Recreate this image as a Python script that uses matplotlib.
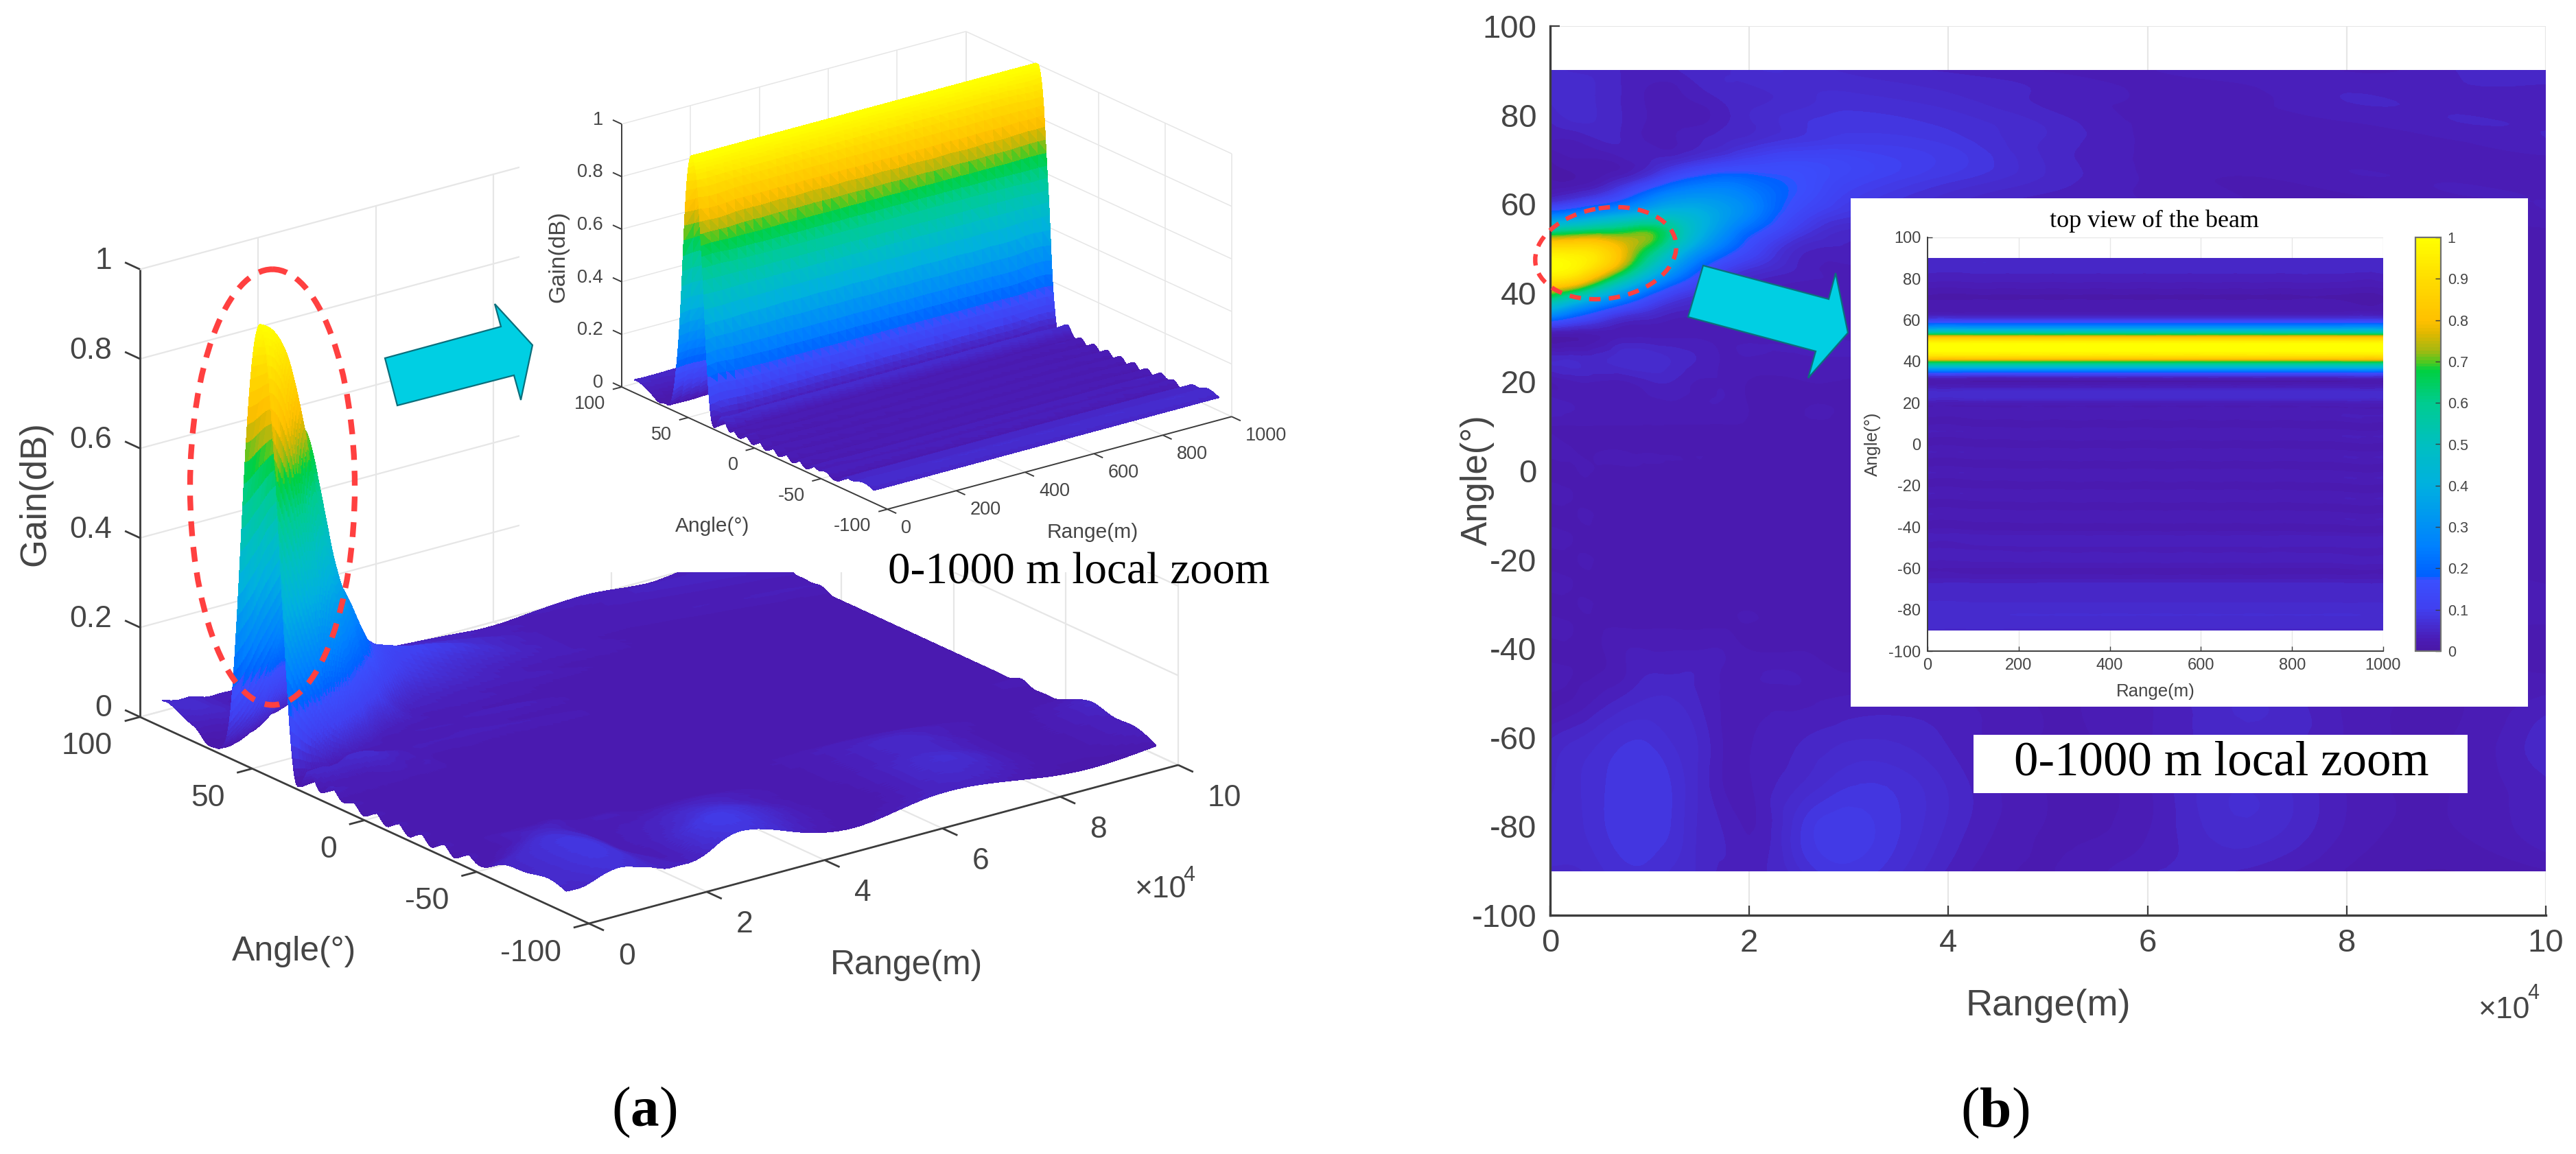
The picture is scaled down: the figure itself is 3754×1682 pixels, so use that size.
import numpy as np
import matplotlib
matplotlib.use("Agg")
import matplotlib.pyplot as plt
import matplotlib.tri as mtri
from matplotlib.colors import LinearSegmentedColormap, Normalize
from matplotlib.cm import ScalarMappable
from matplotlib.patches import Polygon, Ellipse, Rectangle
from mpl_toolkits.mplot3d import proj3d
from mpl_toolkits.mplot3d.art3d import Poly3DCollection

W, H = 3755, 1682
plt.rcParams['font.family'] = ['Liberation Sans', 'DejaVu Sans']
plt.rcParams['axes.unicode_minus'] = False
plt.rcParams['mathtext.fontset'] = 'custom'
plt.rcParams['mathtext.rm'] = 'Liberation Serif'
plt.rcParams['mathtext.bf'] = 'Liberation Serif:bold'

# ---------------------------------------------------------------- data
BEAM_STOPS = [0.0, 0.02, 0.10, 0.17, 0.18, 0.25, 0.30, 0.40, 0.50, 0.60, 0.68, 0.70, 0.73, 0.77, 0.80, 0.90, 1.0]
BEAM_COLORS = ['#4a18a8', '#4a1ab2', '#4040f0', '#3a50ff', '#0060ff', '#0080ff', '#0090f5', '#00b0e0',
               '#00c0c0', '#00cc90', '#00d040', '#50c820', '#a8b810', '#e0b800', '#ffc000', '#ffdc00', '#ffff00']

RANGE_M = [0, 2500, 5000, 7500, 10000, 12500, 15000, 17500, 20000, 25000, 30000,
           40000, 50000, 60000, 70000, 80000, 90000, 100000]
ANGLE_DEG = [-90, -80, -70, -60, -50, -45, -40, -35, -30, -25, -20, -15, -10, -5, 0, 5, 10, 15, 20, 25, 30,
             34, 38, 42, 46, 50, 54, 58, 62, 66, 70, 74, 78, 82, 86, 90]
# gain in percent: one row per angle, one column per range
GAIN_PCT = [
    [5, 5, 6, 7, 7, 6, 5, 4, 4, 6, 8, 4, 2, 4, 4, 2, 1, 2],
    [6, 6, 7, 8, 8, 7, 5, 4, 3, 7, 9, 5, 2, 3, 6, 3, 2, 4],
    [5, 6, 7, 8, 8, 7, 5, 3, 3, 5, 7, 5, 2, 3, 6, 3, 2, 4],
    [4, 5, 6, 7, 7, 6, 5, 3, 3, 4, 5, 4, 2, 3, 5, 3, 2, 5],
    [2, 2, 3, 4, 5, 5, 4, 3, 3, 3, 3, 3, 2, 3, 5, 3, 2, 3],
    [3, 2, 2, 3, 4, 4, 4, 3, 3, 3, 2, 2, 2, 3, 4, 3, 2, 2],
    [1, 2, 2, 3, 3, 3, 3, 3, 2, 2, 2, 2, 2, 3, 3, 2, 2, 2],
    [3, 2, 2, 2, 2, 2, 2, 2, 2, 2, 2, 2, 2, 2, 2, 2, 2, 2],
    [1, 2, 2, 2, 2, 2, 2, 2, 2, 2, 2, 2, 2, 2, 2, 2, 2, 3],
    [3, 2, 2, 2, 2, 2, 2, 2, 2, 2, 2, 2, 2, 2, 2, 2, 2, 2],
    [1, 2, 2, 2, 2, 2, 2, 2, 2, 2, 2, 2, 2, 2, 2, 2, 2, 2],
    [3, 2, 2, 2, 2, 2, 2, 2, 2, 2, 2, 2, 2, 2, 2, 2, 2, 2],
    [1, 2, 2, 2, 2, 2, 2, 2, 2, 2, 2, 2, 2, 2, 2, 2, 2, 2],
    [3, 2, 2, 2, 2, 2, 2, 2, 2, 2, 2, 2, 2, 2, 2, 2, 2, 2],
    [1, 2, 2, 2, 2, 2, 2, 2, 2, 2, 2, 2, 2, 2, 2, 2, 2, 2],
    [3, 2, 2, 2, 2, 2, 2, 2, 2, 2, 2, 2, 2, 2, 2, 2, 2, 2],
    [2, 2, 2, 2, 2, 2, 2, 2, 2, 2, 2, 2, 2, 2, 2, 2, 2, 2],
    [4, 3, 3, 3, 3, 3, 3, 3, 2, 2, 2, 2, 2, 2, 2, 2, 2, 2],
    [2, 3, 3, 3, 4, 4, 3, 3, 2, 2, 2, 2, 2, 2, 2, 2, 2, 2],
    [5, 5, 5, 6, 6, 5, 4, 3, 3, 3, 3, 3, 2, 2, 2, 2, 2, 2],
    [1, 1, 2, 3, 3, 3, 3, 3, 3, 3, 3, 2, 2, 2, 2, 2, 2, 2],
    [20, 14, 9, 5, 4, 3, 3, 3, 3, 3, 3, 3, 2, 2, 2, 2, 2, 2],
    [55, 42, 30, 20, 12, 7, 5, 3, 3, 3, 3, 3, 2, 2, 2, 2, 2, 2],
    [86, 80, 64, 46, 30, 18, 11, 6, 4, 3, 3, 2, 2, 2, 2, 2, 2, 2],
    [100, 97, 88, 72, 52, 34, 20, 12, 8, 4, 3, 3, 2, 2, 2, 2, 2, 2],
    [90, 90, 87, 77, 66, 49, 33, 22, 14, 5, 4, 3, 3, 2, 2, 2, 2, 2],
    [58, 61, 64, 66, 68, 57, 42, 30, 20, 9, 5, 4, 3, 2, 2, 2, 2, 2],
    [20, 24, 30, 35, 41, 43, 40, 34, 27, 13, 8, 5, 3, 3, 2, 2, 2, 3],
    [3, 5, 8, 14, 22, 28, 30, 29, 25, 16, 10, 6, 4, 3, 2, 2, 3, 3],
    [1, 1, 2, 4, 8, 14, 18, 20, 19, 16, 12, 8, 5, 3, 2, 3, 3, 3],
    [1, 2, 2, 3, 4, 5, 7, 9, 11, 13, 12, 9, 5, 3, 3, 3, 3, 3],
    [3, 3, 4, 4, 3, 3, 4, 5, 6, 8, 9, 8, 5, 3, 3, 3, 3, 4],
    [4, 5, 5, 4, 3, 3, 3, 4, 5, 7, 8, 7, 5, 3, 3, 3, 4, 4],
    [5, 6, 5, 4, 3, 3, 3, 4, 5, 6, 7, 6, 4, 3, 3, 4, 4, 4],
    [6, 6, 5, 4, 3, 3, 4, 5, 5, 6, 6, 5, 4, 3, 3, 4, 4, 4],
    [6, 5, 5, 4, 4, 4, 5, 5, 6, 6, 5, 4, 3, 3, 4, 3, 4, 5],
]

ZOOM_RANGE_M = [0, 100, 200, 300, 400, 500, 600, 700, 800, 900, 1000]
ZOOM_ANGLE_DEG = [-90, -85, -80, -75, -70, -65, -60, -55, -50, -45, -40, -35, -30, -25, -20, -15, -10, -5, 0,
                  5, 10, 15, 18, 21, 24, 27, 30, 32, 34, 36, 38, 40, 42, 44, 46, 48, 50, 52, 54, 56, 58,
                  60, 62, 66, 70, 74, 78, 82, 86, 90]
ZOOM_GAIN = [0.05, 0.06, 0.06, 0.05, 0.05, 0.03, 0.02, 0.035, 0.03, 0.035, 0.015, 0.03, 0.015, 0.03, 0.015, 0.03,
             0.015, 0.03, 0.015, 0.03, 0.015, 0.03, 0.02, 0.04, 0.06, 0.04, 0.01, 0.03, 0.12, 0.28, 0.50, 0.68,
             0.86, 0.96, 1.0, 0.995, 0.93, 0.78, 0.55, 0.34, 0.20, 0.10, 0.04, 0.015, 0.01, 0.015, 0.03, 0.04,
             0.05, 0.05]

Z_TICKS = [0, 0.2, 0.4, 0.6, 0.8, 1]
Z_TICK_LABELS = ['0', '0.2', '0.4', '0.6', '0.8', '1']
ANGLE_TICKS_3D = [100, 50, 0, -50, -100]
RANGE_TICKS_MAIN = [0, 20000, 40000, 60000, 80000, 100000]
RANGE_LABELS_MAIN = ['0', '2', '4', '6', '8', '10']
RANGE_TICKS_ZOOM = [0, 200, 400, 600, 800, 1000]
RANGE_LABELS_ZOOM = ['0', '200', '400', '600', '800', '1000']
ANGLE_TICKS_2D = [100, 80, 60, 40, 20, 0, -20, -40, -60, -80, -100]
CBAR_TICKS = [0, 0.1, 0.2, 0.3, 0.4, 0.5, 0.6, 0.7, 0.8, 0.9, 1]
CBAR_LABELS = ['0', '0.1', '0.2', '0.3', '0.4', '0.5', '0.6', '0.7', '0.8', '0.9', '1']
ZOOM_TEXT = '0-1000 m local zoom'

# ---------------------------------------------------------------- styles
TXT = '#454545'
AXC = '#3c3c3c'
GRID = '#e6e6e6'
SERIF = ['Liberation Serif', 'DejaVu Serif']
cmap = LinearSegmentedColormap.from_list('beam', list(zip(BEAM_STOPS, BEAM_COLORS)), N=128)
LEVELS = np.linspace(0, 1.0001, 97)


def grid_triangles(nr, nc):
    tris = []
    for i in range(nr - 1):
        for j in range(nc - 1):
            a = i * nc + j
            tris += [[a, a + 1, a + nc], [a + 1, a + nc + 1, a + nc]]
    return np.array(tris)


def refined_surface(ranges, angles, values, subdiv):
    rr, aa = np.meshgrid(np.asarray(ranges, float), np.asarray(angles, float))
    zz = np.asarray(values, float)
    t = mtri.Triangulation(rr.ravel(), aa.ravel(), grid_triangles(len(angles), len(ranges)))
    rt, rz = mtri.UniformTriRefiner(t).refine_field(zz.ravel(), subdiv=subdiv)
    return rt, np.clip(rz, 0, 1)


main_tri, main_z = refined_surface(RANGE_M, ANGLE_DEG, np.array(GAIN_PCT) / 100.0, 3)
zoom_table = np.column_stack([ZOOM_GAIN] * len(ZOOM_RANGE_M))
zoom_tri, zoom_z = refined_surface(ZOOM_RANGE_M, ZOOM_ANGLE_DEG, zoom_table, 2)


def rect_px(x0, y0, x1, y1):
    return [x0 / W, 1 - y1 / H, (x1 - x0) / W, (y1 - y0) / H]


fig = plt.figure(figsize=(W / 100, H / 100), dpi=100, facecolor='white')


def pixel_overlay(z):
    ov = fig.add_axes([0, 0, 1, 1], zorder=z)
    ov.set_xlim(0, W)
    ov.set_ylim(H, 0)
    ov.axis('off')
    ov.patch.set_alpha(0)
    return ov


under = pixel_overlay(2)
top = pixel_overlay(10)


def project_px(ax, x, y, z):
    u, v, _ = proj3d.proj_transform(x, y, z, ax.get_proj())
    px, py = ax.transData.transform((u, v))
    return px, H - py


def fit_3d(ax, p1, px1, p2, px2):
    size = 1000.0
    ax.set_position([0.2, 0.2, size / W, size / H])
    ax.apply_aspect()
    a = np.array(project_px(ax, *p1))
    b = np.array(project_px(ax, *p2))
    size *= np.linalg.norm(np.array(px2) - np.array(px1)) / np.linalg.norm(b - a)
    ax.set_position([0.2, 0.2, size / W, size / H])
    ax.apply_aspect()
    a = np.array(project_px(ax, *p1))
    ox, oy = 0.2 * W + px1[0] - a[0], 0.2 * H - (px1[1] - a[1])
    ax.set_position([ox / W, oy / H, size / W, size / H])
    ax.apply_aspect()


def surface_3d(rect_z, tri, z, rmax, aspect, A_px, C_px, rticks, lw_axis, lw_grid):
    ax = fig.add_axes([0.2, 0.2, 0.3, 0.3], projection='3d', zorder=rect_z)
    ax.set_proj_type('ortho')
    ax.patch.set_alpha(0)
    ax.set_axis_off()
    verts = np.stack([tri.x[tri.triangles], tri.y[tri.triangles], z[tri.triangles]], axis=-1)
    cols = cmap(z[tri.triangles].mean(axis=1))
    ax.add_collection3d(Poly3DCollection(verts, facecolors=cols, edgecolors=cols, linewidths=1.0,
                                         antialiased=False))
    tick_r = -0.026 * rmax
    tick_a = 6.7

    def ln(xs, ys, zs, c, lw):
        ax.plot(xs, ys, zs, color=c, lw=lw, clip_on=False, solid_capstyle='butt')

    # walls and floor grid
    for zt in Z_TICKS:
        ln([0, rmax], [100, 100], [zt, zt], GRID, lw_grid)
        ln([rmax, rmax], [100, -100], [zt, zt], GRID, lw_grid)
    for rt in rticks:
        ln([rt, rt], [100, 100], [0, 1], GRID, lw_grid)
        ln([rt, rt], [100, -100], [0, 0], GRID, lw_grid)
    for at in ANGLE_TICKS_3D:
        ln([rmax, rmax], [at, at], [0, 1], GRID, lw_grid)
        ln([0, rmax], [at, at], [0, 0], GRID, lw_grid)
    # axis lines and ticks
    ln([0, 0], [100, 100], [0, 1], AXC, lw_axis)
    ln([0, 0], [100, -100], [0, 0], AXC, lw_axis)
    ln([0, rmax], [-100, -100], [0, 0], AXC, lw_axis)
    for zt in Z_TICKS:
        ln([0, 0], [100, 100 + tick_a], [zt, zt], AXC, lw_axis)
    for at in ANGLE_TICKS_3D:
        ln([0, tick_r], [at, at], [0, 0], AXC, lw_axis)
    for rt in rticks:
        ln([rt, rt], [-100, -100 - tick_a], [0, 0], AXC, lw_axis)
    ax.set_xlim(0, rmax, view_margin=0)
    ax.set_ylim(-100, 100, view_margin=0)
    ax.set_zlim(0, 1, view_margin=0)
    ax.set_box_aspect(aspect)
    ax.view_init(elev=20.6, azim=-127.4)
    fit_3d(ax, (0, 100, 0), A_px, (rmax, -100, 0), C_px)
    return ax


# ---------------------------------------------------------------- (a) main surface
ax_main = surface_3d(1, main_tri, main_z, 100000, (1081, 1077, 697), (204, 1045), (1717, 1114),
                     RANGE_TICKS_MAIN, 2.0, 1.6)
under.add_patch(Rectangle((757, 0), 1150, 834, fc='white', ec='none'))

# ---------------------------------------------------------------- (a) zoom surface
ax_zoom = surface_3d(3, zoom_tri, zoom_z, 1000, (631, 637, 409), (906, 564), (1795, 606),
                     RANGE_TICKS_ZOOM, 1.4, 1.1)


def labels_3d(ax, rticks, rlabels, fs, zoff, aoff, roff):
    for zt, s in zip(Z_TICKS, Z_TICK_LABELS):
        px, py = project_px(ax, 0, 100, zt)
        top.text(px + zoff[0], py + zoff[1], s, ha='right', va='center', fontsize=fs, color=TXT)
    for at in ANGLE_TICKS_3D:
        px, py = project_px(ax, 0, at, 0)
        top.text(px + aoff[0], py + aoff[1], str(at), ha='right', va='center', fontsize=fs, color=TXT)
    for rt, s in zip(rticks, rlabels):
        px, py = project_px(ax, rt, -100, 0)
        top.text(px + roff[0], py + roff[1], s, ha='left', va='center', fontsize=fs, color=TXT)


labels_3d(ax_main, RANGE_TICKS_MAIN, RANGE_LABELS_MAIN, 32, (-41, -12), (-40, 43), (43, 48))
labels_3d(ax_zoom, RANGE_TICKS_ZOOM, RANGE_LABELS_ZOOM, 19.5, (-27, -6), (-24, 25), (20, 28))

top.text(51, 720, 'Gain(dB)', rotation=90, ha='center', va='center', fontsize=38, color=TXT)
top.text(429, 1387, 'Angle(°)', ha='center', va='center', fontsize=36, color=TXT)
top.text(1321, 1407, 'Range(m)', ha='center', va='center', fontsize=36, color=TXT)
top.text(1692, 1297, '×10', ha='center', va='center', fontsize=32, color=TXT)
top.text(1733, 1276, '4', ha='center', va='center', fontsize=22, color=TXT)

top.text(814, 374, 'Gain(dB)', rotation=90, ha='center', va='center', fontsize=24, color=TXT)
top.text(1038, 767, 'Angle(°)', ha='center', va='center', fontsize=21.5, color=TXT)
top.text(1592, 776, 'Range(m)', ha='center', va='center', fontsize=21.5, color=TXT)
top.text(1572, 835, ZOOM_TEXT, ha='center', va='center', fontsize=47, color='black', family=SERIF)
top.text(939, 1621, r'$\mathrm{(}\mathbf{a}\mathrm{)}$', ha='center', va='center', fontsize=60, color='black')

# ---------------------------------------------------------------- (b) main heat map
ax_b = fig.add_axes(rect_px(2259, 38, 3710, 1334), zorder=1)
ax_b.tricontourf(main_tri, main_z, levels=LEVELS, cmap=cmap, vmin=0, vmax=1)
ax_b.set_xlim(0, 100000)
ax_b.set_ylim(-100, 100)
ax_b.set_xticks(RANGE_TICKS_MAIN, RANGE_LABELS_MAIN)
ax_b.set_yticks(ANGLE_TICKS_2D, [str(v) for v in ANGLE_TICKS_2D])
ax_b.grid(True, color=GRID, lw=1.5)
ax_b.set_axisbelow(True)
for sp in ('top', 'right'):
    ax_b.spines[sp].set_visible(False)
for sp in ('left', 'bottom'):
    ax_b.spines[sp].set_color(AXC)
    ax_b.spines[sp].set_linewidth(2.4)
ax_b.tick_params(direction='in', length=10, width=1.6, color=AXC, labelsize=34, labelcolor=TXT, pad=14)
top.text(2153, 700, 'Angle(°)', rotation=90, ha='center', va='center', fontsize=38, color=TXT)
top.text(2985, 1466, 'Range(m)', ha='center', va='center', fontsize=39, color=TXT)
top.text(3650, 1472, '×10', ha='center', va='center', fontsize=32, color=TXT)
top.text(3692, 1448, '4', ha='center', va='center', fontsize=22, color=TXT)
top.text(2907, 1622, r'$\mathrm{(}\mathbf{b}\mathrm{)}$', ha='center', va='center', fontsize=60, color='black')

# ---------------------------------------------------------------- (b) top-view inset
under.add_patch(Rectangle((2697, 289), 987, 741, fc='white', ec='none'))
under.add_patch(Rectangle((2876, 1071), 720, 85, fc='white', ec='none'))
ax_i = fig.add_axes(rect_px(2809, 346, 3473, 949), zorder=3)
ax_i.tricontourf(zoom_tri, zoom_z, levels=LEVELS, cmap=cmap, vmin=0, vmax=1)
ax_i.set_xlim(0, 1000)
ax_i.set_ylim(-100, 100)
ax_i.set_xticks(RANGE_TICKS_ZOOM, RANGE_LABELS_ZOOM)
ax_i.set_yticks(ANGLE_TICKS_2D, [str(v) for v in ANGLE_TICKS_2D])
ax_i.grid(True, color=GRID, lw=1.0)
ax_i.set_axisbelow(True)
for sp in ('top', 'right'):
    ax_i.spines[sp].set_visible(False)
for sp in ('left', 'bottom'):
    ax_i.spines[sp].set_color(AXC)
    ax_i.spines[sp].set_linewidth(1.4)
ax_i.tick_params(direction='in', length=5, width=1.0, color=AXC, labelsize=17, labelcolor=TXT, pad=7)
top.text(3140, 322, 'top view of the beam', ha='center', va='center', fontsize=26, color='black', family=SERIF)
top.text(3141, 1008, 'Range(m)', ha='center', va='center', fontsize=18.6, color=TXT)
top.text(2729, 647, 'Angle(°)', rotation=90, ha='center', va='center', fontsize=18.6, color=TXT)
top.text(3237, 1112, ZOOM_TEXT, ha='center', va='center', fontsize=51, color='black', family=SERIF)

cax = fig.add_axes(rect_px(3520, 346, 3557, 949), zorder=3)
cb = fig.colorbar(ScalarMappable(Normalize(0, 1), cmap), cax=cax)
cb.set_ticks(CBAR_TICKS, labels=CBAR_LABELS)
cb.ax.tick_params(direction='in', length=6, width=1.0, color=AXC, labelsize=15.5, labelcolor=TXT, pad=7)
cb.outline.set_edgecolor('#707070')
cb.outline.set_linewidth(1.6)

# ---------------------------------------------------------------- arrows and dashed ellipses
ARROW_A = [(561, 522), (730, 476), (721, 443), (776, 503), (759, 583), (749, 547), (579, 591)]
ARROW_B = [(2482, 387), (2665, 436), (2675, 398), (2693, 485), (2635, 551), (2646, 512), (2460, 462)]
for pts in (ARROW_A, ARROW_B):
    top.add_patch(Polygon(pts, closed=True, fc='#00cfe3', ec='#0b6f7c', lw=1.6))
top.add_patch(Ellipse((397, 710), 240, 635, fc='none', ec='#ff4040', lw=6.0, ls=(0, (2.6, 1.9))))
top.add_patch(Ellipse((2340, 369), 207, 132, angle=-9, fc='none', ec='#ff4040', lw=4.6, ls=(0, (2.6, 1.9))))

fig.savefig('out.png', dpi=100, facecolor='white')
